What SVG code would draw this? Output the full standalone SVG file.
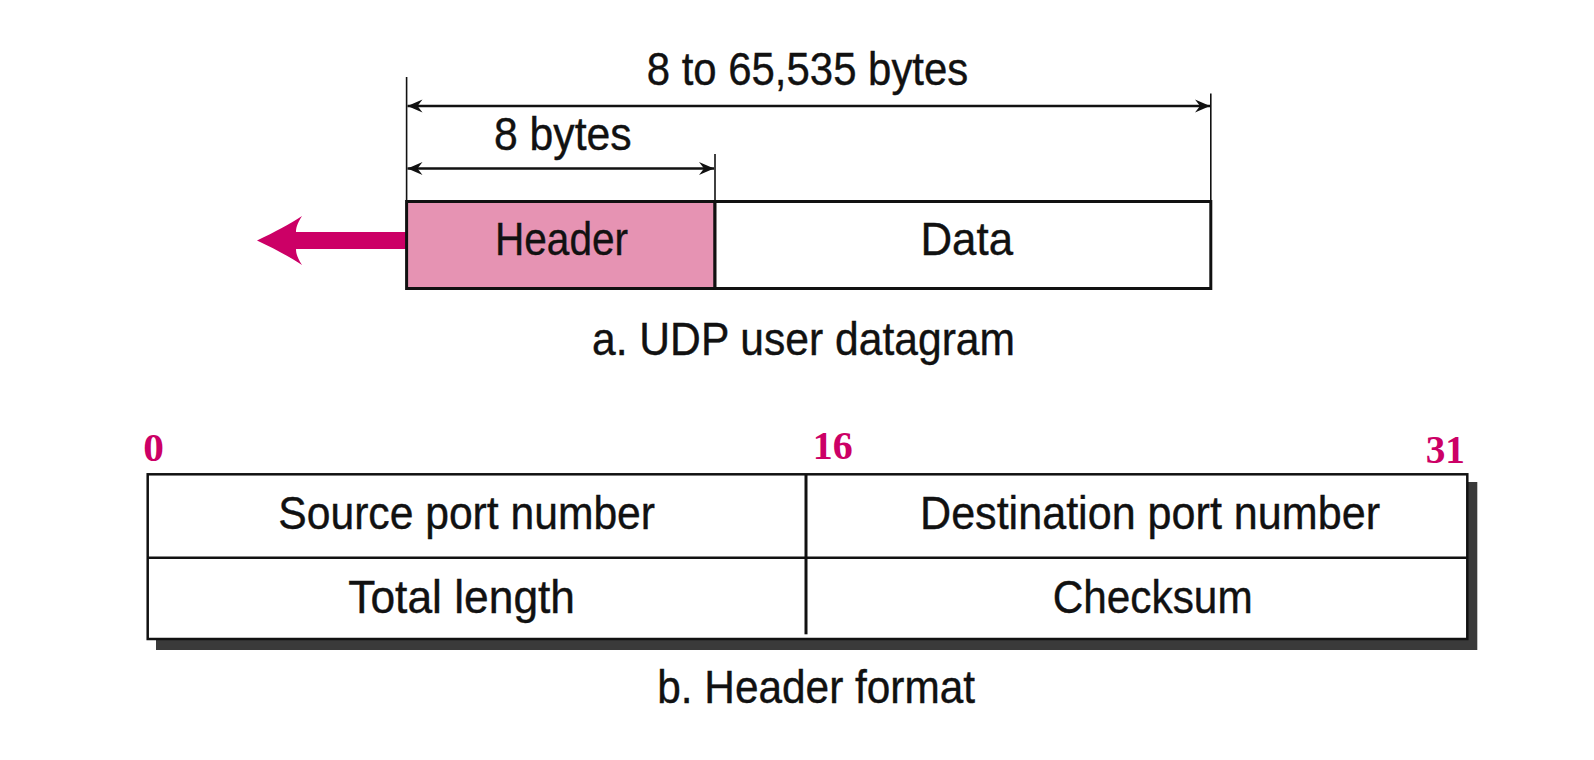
<svg xmlns="http://www.w3.org/2000/svg" width="1594" height="760" viewBox="0 0 1594 760">
<defs>
<marker id="ah" markerUnits="userSpaceOnUse" markerWidth="22" markerHeight="18" viewBox="-18 -9 20 18" refX="0" refY="0" orient="auto-start-reverse">
<path d="M0,0 L-15,-6.5 L-10,0 L-15,6.5 Z" fill="#111111"/>
</marker>
</defs>
<style>
.t{font-family:"Liberation Sans",Arial,sans-serif;font-size:46px;fill:#111111;stroke:#111111;stroke-width:0.4}
.n{font-family:"Liberation Serif","Times New Roman",serif;font-weight:bold;font-size:41px;fill:#cc0066}
.box{stroke:#111111;stroke-width:3}
.dim{stroke:#111111;stroke-width:2.5;fill:none}
.tick{stroke:#111111;stroke-width:1.6}
</style>
<rect width="1594" height="760" fill="#ffffff"/>

<g id="connectors">
<line class="tick" x1="406.6" y1="77" x2="406.6" y2="201"/>
<line class="tick" x1="715" y1="154" x2="715" y2="201"/>
<line class="tick" x1="1210.8" y1="93.5" x2="1210.8" y2="201"/>
<line class="dim" x1="407.5" y1="106" x2="1210" y2="106" marker-start="url(#ah)" marker-end="url(#ah)"/>
<line class="dim" x1="407.5" y1="168.5" x2="714" y2="168.5" marker-start="url(#ah)" marker-end="url(#ah)"/>
<path id="out-arrow" d="M257,240.5 C275,232 290,224 302,216 C297,224 296,228 296,232 L406,232 L406,249 L296,249 C296,253 297,257 302,265 C290,257 275,249 257,240.5 Z" fill="#cc0066"/>
</g>

<g id="label-total">
<text class="t" x="646.7" y="85" textLength="321.6" lengthAdjust="spacingAndGlyphs">8 to 65,535 bytes</text>
</g>
<g id="label-header-len">
<text class="t" x="494" y="150" textLength="137.7" lengthAdjust="spacingAndGlyphs">8 bytes</text>
</g>

<g id="header-node">
<rect class="box" x="406.6" y="201.5" width="308.4" height="87" fill="#e693b3"/>
<text class="t" x="495" y="255" textLength="133" lengthAdjust="spacingAndGlyphs">Header</text>
</g>
<g id="data-node">
<rect class="box" x="715" y="201.5" width="495.8" height="87" fill="#ffffff"/>
<text class="t" x="920.5" y="255" textLength="92.5" lengthAdjust="spacingAndGlyphs">Data</text>
</g>
<g id="caption-a">
<text class="t" x="592" y="355" textLength="423" lengthAdjust="spacingAndGlyphs">a. UDP user datagram</text>
</g>

<g id="bit-labels">
<text class="n" x="143.3" y="461" textLength="20.7" lengthAdjust="spacingAndGlyphs">0</text>
<text class="n" x="812.7" y="459" textLength="40" lengthAdjust="spacingAndGlyphs">16</text>
<text class="n" x="1425.7" y="463.3" textLength="39.3" lengthAdjust="spacingAndGlyphs">31</text>
</g>

<g id="header-table">
<rect x="156" y="482" width="1321.3" height="168" fill="#3a3a3a"/>
<rect x="147.7" y="474.3" width="1319.6" height="164.7" fill="#ffffff" stroke="#111111" stroke-width="2.5"/>
<line x1="147.7" y1="557.7" x2="1467.3" y2="557.7" stroke="#111111" stroke-width="2.5"/>
<line x1="806" y1="474.3" x2="806" y2="634.3" stroke="#111111" stroke-width="3"/>
</g>
<g id="field-source">
<text class="t" x="278.3" y="529.3" textLength="376.7" lengthAdjust="spacingAndGlyphs">Source port number</text>
</g>
<g id="field-destination">
<text class="t" x="920" y="529.3" textLength="460" lengthAdjust="spacingAndGlyphs">Destination port number</text>
</g>
<g id="field-length">
<text class="t" x="348.3" y="612.7" textLength="226.7" lengthAdjust="spacingAndGlyphs">Total length</text>
</g>
<g id="field-checksum">
<text class="t" x="1052.7" y="612.7" textLength="200" lengthAdjust="spacingAndGlyphs">Checksum</text>
</g>
<g id="caption-b">
<text class="t" x="657.3" y="703.3" textLength="317.7" lengthAdjust="spacingAndGlyphs">b. Header format</text>
</g>
</svg>
